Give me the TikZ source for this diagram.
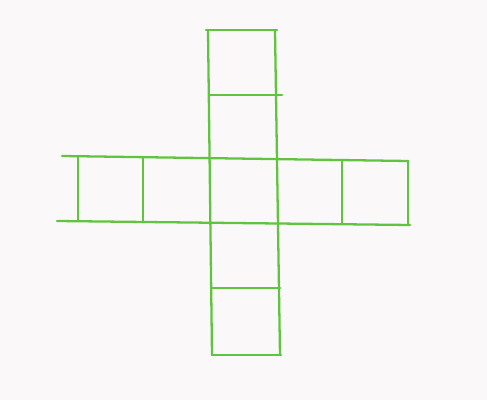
\documentclass[tikz,border=0pt]{standalone}
\usepackage{tikz}
\definecolor{pencil}{RGB}{96,196,62}
\definecolor{paper}{RGB}{251,248,250}

\begin{document}
\begin{tikzpicture}[
  x=0.01cm, y=-0.01cm,
  edge/.style={draw=pencil, line width=0.65pt, line cap=round}
]
\fill[paper] (0,0) rectangle (487,400);
\useasboundingbox (0,0) rectangle (487,400);
% horizontal strip
\draw[edge] (62,156) -- (408,161);
\draw[edge] (57,221) -- (410,225);
\foreach \xa/\ya/\yb in {78/156/221, 143/157/222, 342/160/224, 408/161/225}
  \draw[edge] (\xa,\ya) -- (\xa,\yb);
% vertical strip
\draw[edge] (208,30) -- (212,355);
\draw[edge] (275,30) -- (280,355);
\foreach \ya/\xa/\xb in {30/206/277, 95/210/282, 288/212/280, 355/212/281}
  \draw[edge] (\xa,\ya) -- (\xb,\ya);
\end{tikzpicture}
\end{document}
